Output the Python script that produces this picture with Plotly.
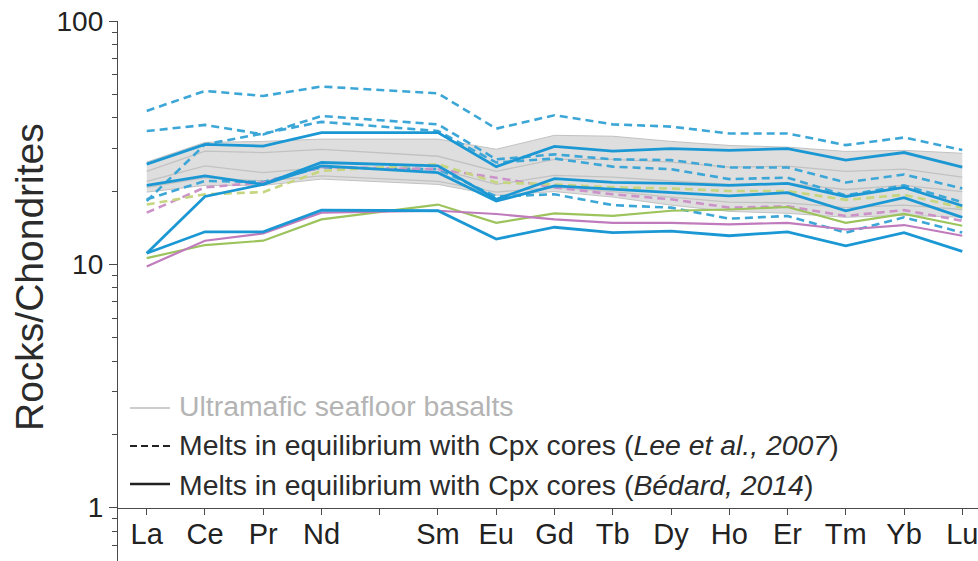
import plotly.graph_objects as go

# Rare-earth elements along the x axis (Pm is not measured but keeps its slot)
ree_axis = ["La", "Ce", "Pr", "Nd", "Pm", "Sm", "Eu", "Gd", "Tb", "Dy", "Ho", "Er", "Tm", "Yb", "Lu"]
elements = ["La", "Ce", "Pr", "Nd", "Sm", "Eu", "Gd", "Tb", "Dy", "Ho", "Er", "Tm", "Yb", "Lu"]

# Ultramafic seafloor basalts: envelope and individual samples
basalt_upper = [26.3, 31.7, 32.0, 32.7, 32.7, 29.7, 33.9, 33.6, 32.0, 30.8, 30.3, 29.1, 29.4, 28.6]
basalt_lower = [19.8, 21.1, 21.1, 22.4, 21.3, 19.2, 19.9, 18.9, 17.5, 16.5, 16.2, 15.6, 15.9, 15.6]
basalt_a = [24.1, 29.2, 28.8, 29.7, 27.8, 24.1, 27.0, 27.0, 26.3, 25.1, 25.3, 24.1, 24.6, 22.8]
basalt_b = [21.9, 25.4, 23.8, 25.0, 24.6, 21.3, 23.2, 22.8, 22.0, 21.3, 21.5, 20.3, 21.1, 19.9]
basalt_c = [20.7, 22.7, 22.0, 23.1, 21.9, 19.8, 20.7, 19.9, 18.9, 18.0, 17.9, 17.1, 17.5, 16.8]

# Melts in equilibrium with Cpx cores, Lee et al. (2007) partitioning (dashed)
lee_blue_1 = [42.7, 51.6, 49.2, 53.8, 50.4, 36.1, 41.0, 37.6, 36.8, 34.5, 34.5, 30.9, 33.2, 29.5]
lee_blue_2 = [35.3, 37.4, 34.2, 40.7, 37.6, 27.0, 28.3, 27.0, 26.8, 25.0, 25.0, 21.7, 23.4, 20.5]
lee_blue_3 = [18.2, 31.1, 34.5, 38.5, 35.3, 26.2, 27.2, 25.2, 24.6, 22.4, 22.7, 19.2, 21.1, 18.0]
lee_blue_4 = [18.5, 22.0, 21.8, 25.0, 24.6, 19.0, 19.4, 17.5, 17.1, 15.4, 15.8, 13.5, 15.6, 13.5]
lee_pink = [16.3, 20.7, 21.7, 25.1, 24.6, 22.7, 20.7, 19.4, 18.5, 17.1, 17.3, 15.8, 16.7, 15.1]
lee_green = [17.6, 19.4, 19.8, 24.2, 25.8, 21.7, 21.3, 20.7, 20.5, 20.0, 20.0, 18.4, 19.3, 17.1]

# Melts in equilibrium with Cpx cores, Bédard (2014) partitioning (solid)
bed_blue_1 = [25.8, 31.1, 30.6, 34.8, 34.8, 25.2, 30.5, 29.2, 29.9, 29.4, 29.9, 26.8, 28.8, 25.1]
bed_blue_2 = [21.1, 23.1, 21.3, 26.2, 25.4, 18.5, 22.5, 21.7, 21.5, 21.1, 21.5, 19.0, 20.7, 17.4]
bed_blue_3 = [11.1, 19.0, 21.3, 25.4, 23.8, 18.2, 21.0, 20.3, 19.7, 19.1, 19.7, 16.6, 18.8, 15.6]
bed_blue_4 = [11.1, 13.6, 13.6, 16.7, 16.6, 12.7, 14.2, 13.5, 13.7, 13.1, 13.6, 11.9, 13.5, 11.3]
bed_green = [10.6, 12.0, 12.5, 15.3, 17.6, 14.8, 16.2, 15.8, 16.6, 16.8, 17.2, 14.8, 16.1, 14.4]
bed_pink = [9.8, 12.5, 13.4, 16.3, 16.6, 16.1, 15.3, 14.8, 14.8, 14.6, 14.8, 13.9, 14.5, 13.1]

legend_labels = [
    "Ultramafic seafloor basalts",
    "Melts in equilibrium with Cpx cores (<i>Lee et al., 2007</i>)",
    "Melts in equilibrium with Cpx cores (<i>Bédard, 2014</i>)",
]

FONT = "Liberation Sans, Arial, sans-serif"
BLUE = "#1b98d4"
BLUE_D = "#3ca6d7"
GREEN = "#9cc35c"
GREEN_D = "#c6d57f"
PINK = "#c07bbd"
PINK_D = "#cc93c9"
GREY_FILL = "#dedede"
GREY_LINE = "#c2c2c2"

x = [ree_axis.index(e) for e in elements]
fig = go.Figure()

# basalt envelope
fig.add_trace(go.Scatter(x=x, y=basalt_lower, mode="lines", line=dict(color=GREY_LINE, width=1),
                         showlegend=False, hoverinfo="skip"))
fig.add_trace(go.Scatter(x=x, y=basalt_upper, mode="lines", line=dict(color=GREY_LINE, width=1),
                         fill="tonexty", fillcolor=GREY_FILL, showlegend=False, hoverinfo="skip"))
for ys in (basalt_a, basalt_b, basalt_c):
    fig.add_trace(go.Scatter(x=x, y=ys, mode="lines", line=dict(color=GREY_LINE, width=1.3),
                             showlegend=False))

DASH = "8px,5px"
for ys, col in ((lee_blue_1, BLUE_D), (lee_blue_2, BLUE_D), (lee_blue_3, BLUE_D), (lee_blue_4, BLUE_D),
                (lee_pink, PINK_D), (lee_green, GREEN_D)):
    fig.add_trace(go.Scatter(x=x, y=ys, mode="lines", line=dict(color=col, width=2.6, dash=DASH),
                             showlegend=False))

for ys, col, w in ((bed_green, GREEN, 2.2), (bed_pink, PINK, 2.2), (bed_blue_1, BLUE, 2.8),
                   (bed_blue_2, BLUE, 2.8), (bed_blue_3, BLUE, 2.8), (bed_blue_4, BLUE, 2.8)):
    fig.add_trace(go.Scatter(x=x, y=ys, mode="lines", line=dict(color=col, width=w),
                             showlegend=False))

W, H = 978, 561
L, T = 118, 21
pw, ph = W - L, H - T


def px(xp):
    return (xp - L) / pw


def py(yp):
    return (H - yp) / ph


# hand-placed legend
legend_rows = [
    (408, 406, "#bdbdbd", "solid", 1.6, "#b4b4b4"),
    (446, 445, "#222222", "7px,4px", 2.2, "#2b2b2b"),
    (484, 485, "#222222", "solid", 2.4, "#2b2b2b"),
]
for (ly, ty, lc, ld, lw, tc), label in zip(legend_rows, legend_labels):
    fig.add_shape(type="line", xref="paper", yref="paper", x0=px(130), x1=px(170), y0=py(ly), y1=py(ly),
                  line=dict(color=lc, width=lw, dash=ld))
    fig.add_annotation(text=label, xref="paper", yref="paper", x=px(177), y=py(ty),
                       xanchor="left", yanchor="middle", showarrow=False,
                       font=dict(family=FONT, size=28.4, color=tc))

fig.add_annotation(text="Rocks/Chondrites", xref="paper", yref="paper", x=px(29), y=py(277),
                   textangle=-90, xanchor="center", yanchor="middle", showarrow=False,
                   font=dict(family=FONT, size=39, color="#2b2b2b"))

tick_text = ["" if e == "Pm" else e for e in ree_axis]
ymin_log = 2.0 - ph / 243.3

fig.update_layout(
    width=W, height=H,
    margin=dict(l=L, r=0, t=T, b=0),
    paper_bgcolor="white", plot_bgcolor="white",
    showlegend=False,
    font=dict(family=FONT, color="#222222"),
    xaxis=dict(
        range=[-0.493, 14.27], tickvals=list(range(len(ree_axis))), ticktext=tick_text,
        showgrid=False, zeroline=False, showline=True, linecolor="#4a4a4a", linewidth=1.3,
        ticks="outside", ticklen=6, tickwidth=1.2, tickcolor="#4a4a4a",
        tickfont=dict(family=FONT, size=29, color="#222222"),
        ticklabelstandoff=-6, ticklabeloverflow="allow",
        anchor="free", position=(0 - ymin_log) / (2.0 - ymin_log),
    ),
    yaxis=dict(
        type="log", range=[ymin_log, 2.0],
        tickvals=[1, 10, 100], ticktext=["1", "10", "100"],
        showgrid=False, zeroline=False, showline=True, linecolor="#4a4a4a", linewidth=1.3,
        ticks="outside", ticklen=8, tickwidth=1.2, tickcolor="#4a4a4a",
        tickfont=dict(family=FONT, size=28, color="#222222"),
        minor=dict(tickvals=[0.7, 0.8, 0.9, 2, 3, 4, 5, 6, 7, 8, 9, 20, 30, 40, 50, 60, 70, 80, 90],
                   ticks="outside", ticklen=5, tickwidth=1.2, tickcolor="#4a4a4a", showgrid=False),
    ),
)

fig.write_html("out.html")
